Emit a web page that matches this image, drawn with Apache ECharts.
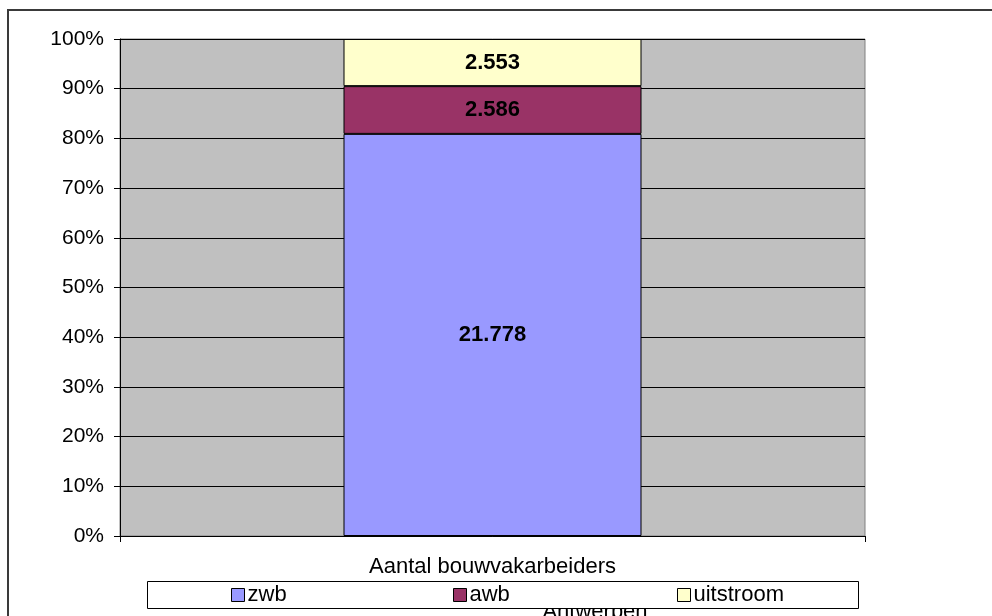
<!DOCTYPE html>
<html>
<head>
<meta charset="utf-8">
<script src="https://cdn.jsdelivr.net/npm/echarts@6/dist/echarts.min.js"></script>
<style>
  html, body { margin: 0; padding: 0; background: #fff; }
  #main { width: 992px; height: 616px; }
</style>
</head>
<body>
<div id="main"></div>
<script>
// data
var categories = ['Aantal bouwvakarbeiders'];
var seriesNames = ['zwb', 'awb', 'uitstroom'];
var zwb = [21778];
var awb = [2586];
var uitstroom = [2553];
var yTicks = [0, 10, 20, 30, 40, 50, 60, 70, 80, 90, 100];
var colors = ['#9999FF', '#993366', '#FFFFCC'];

var raw = [zwb, awb, uitstroom];
// 100% gestapeld: aandeel per categorie
var totals = categories.map(function (c, i) {
  return zwb[i] + awb[i] + uitstroom[i];
});
function share(arr) {
  return arr.map(function (v, i) { return v / totals[i] * 100; });
}
function nl(v) {
  return String(v).replace(/\B(?=(\d{3})+(?!\d))/g, '.');
}

var font = 'Arial, "Liberation Sans", sans-serif';
var chart = echarts.init(document.getElementById('main'));

var series = raw.map(function (arr, s) {
  return {
    name: seriesNames[s],
    type: 'bar',
    stack: 'tot',
    barCategoryGap: '60%',
    data: share(arr),
    itemStyle: { color: colors[s], borderColor: '#000', borderWidth: 1 },
    label: {
      show: true,
      position: 'inside',
      color: '#000',
      fontWeight: 'bold',
      fontSize: 22,
      fontFamily: font,
      formatter: function (p) { return nl(raw[p.seriesIndex][p.dataIndex]); }
    },
    emphasis: { disabled: true }
  };
});

var legendLefts = [231, 453, 677];
var legends = seriesNames.map(function (n, i) {
  return {
    data: [n],
    left: legendLefts[i],
    top: 584,
    padding: 0,
    z: 10,
    icon: 'rect',
    itemWidth: 13,
    itemHeight: 13,
    itemGap: 4,
    selectedMode: false,
    itemStyle: { borderColor: '#000', borderWidth: 1 },
    textStyle: { color: '#000', fontSize: 22, fontFamily: font, padding: [0, 0, 0, -2] }
  };
});

chart.setOption({
  animation: false,
  color: colors,
  textStyle: { fontFamily: font },
  grid: {
    left: 120, right: 127, top: 39, bottom: 80,
    show: true,
    backgroundColor: '#C0C0C0',
    borderColor: '#808080',
    borderWidth: 1
  },
  legend: legends,
  graphic: [
    {
      type: 'rect', z: 0, silent: true,
      shape: { x: 8, y: 10, width: 1100, height: 700 },
      style: { fill: null, stroke: '#3a3a3a', lineWidth: 2 }
    },
    {
      type: 'text', z: 1, silent: true,
      x: 595, y: 601,
      style: { text: 'Antwerpen', fill: '#000', font: '22px ' + font, textAlign: 'center', textVerticalAlign: 'top' }
    },
    {
      type: 'rect', z: 3, silent: true,
      shape: { x: 147.5, y: 581.5, width: 711, height: 27 },
      style: { fill: '#fff', stroke: '#000', lineWidth: 1 }
    }
  ],
  xAxis: {
    type: 'category',
    data: categories,
    axisLine: { lineStyle: { color: '#000', width: 1 } },
    axisTick: { show: true, length: 6, lineStyle: { color: '#000' } },
    axisLabel: { color: '#000', fontSize: 22, margin: 20, fontFamily: font }
  },
  yAxis: {
    type: 'value',
    min: yTicks[0],
    max: yTicks[yTicks.length - 1],
    interval: 10,
    axisLine: { show: true, lineStyle: { color: '#000', width: 1 } },
    axisTick: { show: true, length: 6, lineStyle: { color: '#000' } },
    axisLabel: { color: '#000', fontSize: 21, margin: 16, fontFamily: font, formatter: '{value}%' },
    splitLine: { show: true, lineStyle: { color: '#000', width: 1 } }
  },
  series: series
});
</script>
</body>
</html>
